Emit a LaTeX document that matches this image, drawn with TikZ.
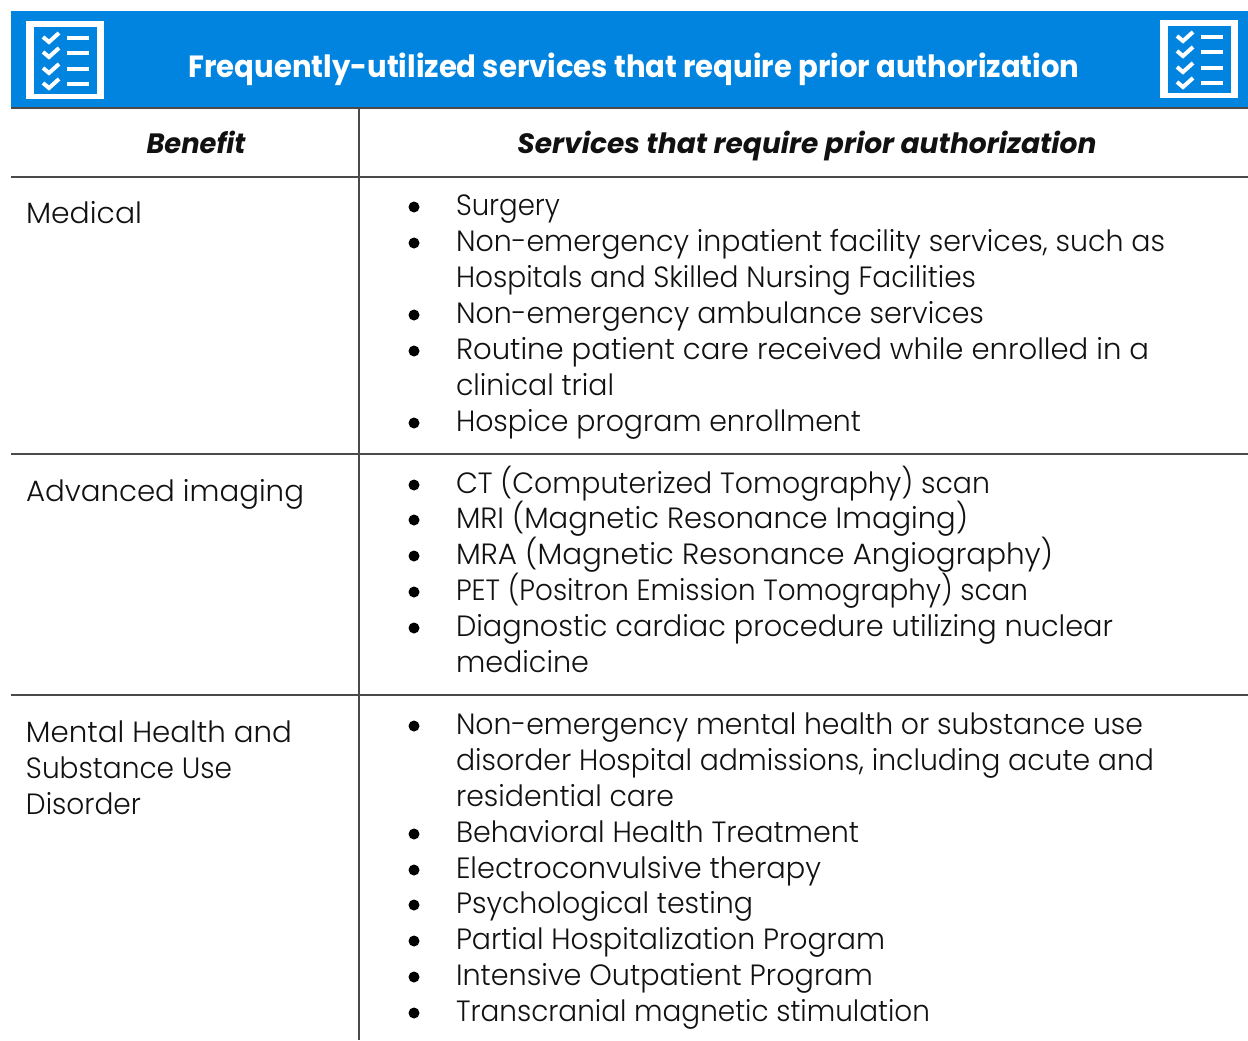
\documentclass[tikz,border=0pt]{standalone}
\usepackage{graphicx}
\usepackage{fontspec}
\setmainfont{Poppins}
\newfontfamily\bodyfont{Poppins Light}
\definecolor{barblue}{HTML}{0084DF}
\definecolor{txt}{HTML}{111111}
\definecolor{rulegray}{HTML}{4A4A4A}
\newcommand{\fitw}[2]{\pgfmathsetlengthmacro{\tw}{(#1)*0.75pt}\resizebox{\tw}{\height}{#2}}
\tikzset{
  x=0.75pt,y=-0.75pt,
  rowline/.style={draw=rulegray,line width=1pt},
  cell/.style={anchor=base west,inner sep=0pt,outer sep=0pt,text=txt,font=\fontsize{22}{22}\bodyfont},
  bullet/.style={circle,fill=black,inner sep=0pt,minimum size=11*0.75pt},
  headtxt/.style={anchor=base,inner sep=0pt,text=txt,font=\fontsize{21}{21}\selectfont\bfseries\itshape},
  titletxt/.style={anchor=base,inner sep=0pt,text=white,font=\fontsize{23}{24}\selectfont\bfseries},
  pics/checklist/.style={code={
    \fill[white] (0,0) rectangle (78,78);
    \fill[barblue] (8,6) rectangle (71,73);
    \foreach \yy in {16,31,47,62}{
      \draw[white,line width=3pt] (17,\yy) -- (23,\yy+5) -- (33,\yy-4);
      \fill[white] (41,\yy-1) rectangle (63,\yy+3);
    }
  }}
}
\begin{document}
\begin{tikzpicture}
\useasboundingbox (0,0) rectangle (1248,1040);
\fill[barblue] (11,11) rectangle (1248,108);
\draw[rowline] (11,108) -- (1248,108);
\draw[rowline] (11,177) -- (1248,177);
\draw[rowline] (11,454) -- (1248,454);
\draw[rowline] (11,695) -- (1248,695);
\draw[rowline] (359,108) -- (359,1040);
\pic at (26,21) {checklist};
\pic at (1160,20) {checklist};
\node[titletxt] (title) at (634,77) {\fitw{891}{Frequently-utilized services that require prior authorization}};
\node[headtxt] (h1) at (196,153) {\fitw{99}{Benefit}};
\node[headtxt] (h2) at (807,153) {\fitw{579}{Services that require prior authorization}};
\node[cell] (b1) at (26,223) {\fitw{116}{Medical}};
\node[cell] (b2) at (26,501) {\fitw{278}{Advanced imaging}};
\node[cell] (b3a) at (26,742) {\fitw{266}{Mental Health and}};
\node[cell] (b3b) at (26,778) {\fitw{206}{Substance Use}};
\node[cell] (b3c) at (26,814) {\fitw{115}{Disorder}};
\foreach \n/\yy/\r/\t in {
 a1/215/560/{Surgery},
 a2/251/1165/{Non-emergency inpatient facility services, such as},
 a4/323/984/{Non-emergency ambulance services},
 a5/359/1149/{Routine patient care received while enrolled in a},
 a7/431/861/{Hospice program enrollment},
 c1/493/990/{CT (Computerized Tomography) scan},
 c2/528/968/{MRI (Magnetic Resonance Imaging)},
 c3/564/1053/{MRA (Magnetic Resonance Angiography)},
 c4/600/1028/{PET (Positron Emission Tomography) scan},
 c5/636/1113/{Diagnostic cardiac procedure utilizing nuclear},
 d1/734/1143/{Non-emergency mental health or substance use},
 d4/842/859/{Behavioral Health Treatment},
 d5/878/821/{Electroconvulsive therapy},
 d6/913/753/{Psychological testing},
 d7/949/885/{Partial Hospitalization Program},
 d8/985/873/{Intensive Outpatient Program},
 d9/1021/930/{Transcranial magnetic stimulation}}{
  \node[cell] (\n) at (456,\yy) {\fitw{\r-456}{\t}};
  \node[bullet] (bul\n) at (414,\yy-8) {};
}
\foreach \n/\yy/\r/\t in {
 a3/287/976/{Hospitals and Skilled Nursing Facilities},
 a6/395/614/{clinical trial},
 c6/672/589/{medicine},
 d2/770/1154/{disorder Hospital admissions, including acute and},
 d3/806/674/{residential care}}{
  \node[cell] (\n) at (456,\yy) {\fitw{\r-456}{\t}};
}
\end{tikzpicture}
\end{document}
